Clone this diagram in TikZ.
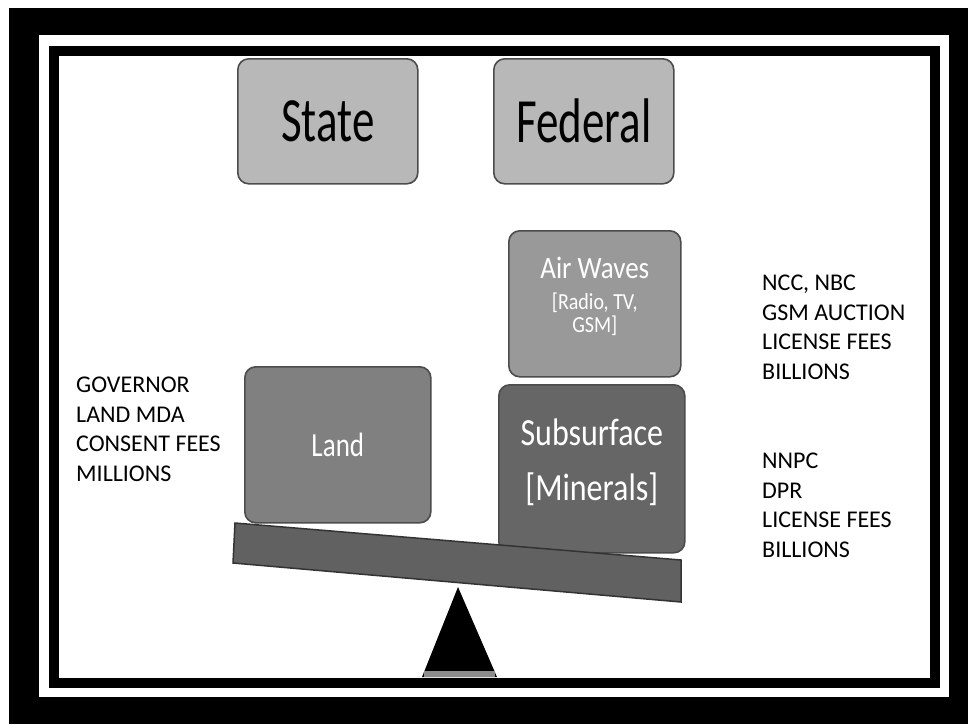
\documentclass[tikz,border=0pt]{standalone}
\usepackage{fontspec}
\setmainfont{Carlito}
\usepackage{graphicx}
\begin{document}
\begin{tikzpicture}[x=1pt,y=-1pt,
  box/.style={draw=black!70, line width=1.6pt, rounded corners=11pt, inner sep=0pt, anchor=north west},
  topbox/.style={box, fill=black!28, text=black},
  sidetext/.style={anchor=north west, align=left, inner sep=0pt, font=\fontsize{24}{29.5}\selectfont, text=black}]
\useasboundingbox (0,0) rectangle (968,724);
% frame
\fill[white] (0,0) rectangle (968,724);
\fill[black] (9,8) rectangle (968,724);
\fill[white] (39,35) rectangle (949,697);
\fill[black] (49,46) rectangle (940,688);
\fill[white] (59,56) rectangle (930,678);
% top boxes
\node[topbox, minimum width=180pt, minimum height=125pt] (state) at (237,58)
  {\scalebox{1}[1.4]{\fontsize{45}{50}\selectfont State}};
\node[topbox, minimum width=180pt, minimum height=125pt] (federal) at (493,58)
  {\scalebox{1}[1.4]{\fontsize{45}{50}\selectfont Federal}};
% air waves
\node[box, fill=black!40, text=white, minimum width=172pt, minimum height=146pt, align=center] (air) at (508,230)
  {\scalebox{1}[1.15]{\fontsize{27}{30}\selectfont Air Waves}\\[13pt]
   \scalebox{1}[1.15]{\fontsize{20}{24}\selectfont [Radio, TV,}\\[3pt]
   \scalebox{1}[1.15]{\fontsize{20}{24}\selectfont GSM]}\\[6pt]\mbox{}};
% land
\node[box, fill=black!50, text=white, minimum width=186pt, minimum height=156pt] (land) at (244,366)
  {\scalebox{1}[1.25]{\fontsize{27}{30}\selectfont Land}};
% subsurface
\node[box, fill=black!60, text=white, minimum width=186pt, minimum height=168pt, align=center] (sub) at (498,384)
  {\scalebox{1}[1.2]{\fontsize{32}{36}\selectfont Subsurface}\\[26pt]
   \scalebox{1}[1.2]{\fontsize{32}{36}\selectfont [Minerals]}\\[6pt]\mbox{}};
% beam
\fill[black!62, draw=black!80, line width=1.5pt] (235,523) -- (681,560) -- (681,602) -- (233,563) -- cycle;
% fulcrum
\fill[black] (458,587) -- (497,677) -- (422,677) -- cycle;
\fill[black!45] (424,671) rectangle (495,677);
% side texts
\node[sidetext] (left) at (76,377) {GOVERNOR\\LAND MDA\\CONSENT FEES\\MILLIONS};
\node[sidetext] (right1) at (762,275) {NCC, NBC\\GSM AUCTION\\LICENSE FEES\\BILLIONS};
\node[sidetext] (right2) at (762,453) {NNPC\\DPR\\LICENSE FEES\\BILLIONS};
\end{tikzpicture}
\end{document}
